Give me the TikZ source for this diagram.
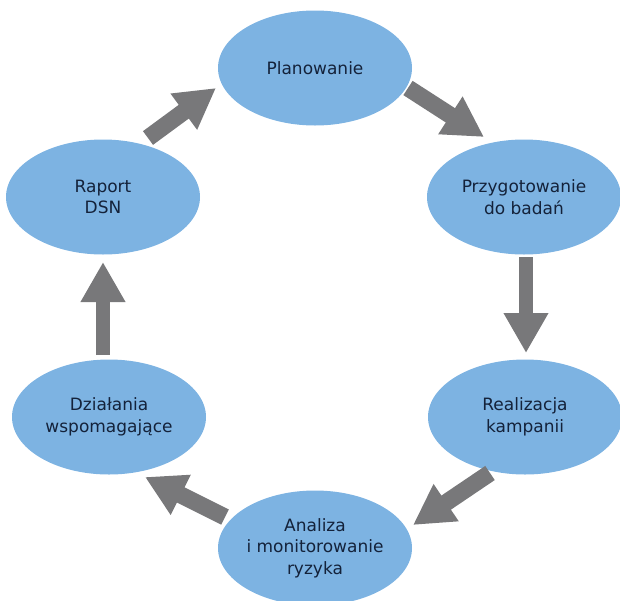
\documentclass[tikz,border=0pt]{standalone}
\usepackage{fontspec}
\setmainfont{DejaVu Sans}
\usetikzlibrary{shapes.geometric,arrows.meta}
\definecolor{stagefill}{RGB}{125,179,226}
\definecolor{stagetext}{RGB}{20,34,58}
\definecolor{flowgray}{RGB}{120,120,122}
\tikzset{
  stage/.style={ellipse, fill=stagefill, minimum width=194pt, minimum height=115pt,
    inner sep=0pt, align=center, text=stagetext,
    font=\fontsize{17pt}{21.5pt}\selectfont},
  flow/.style={draw=flowgray, line width=17pt,
    -{Triangle[length=40pt,width=42pt]}},
  upright/.style={line width=14pt}
}
\begin{document}
\begin{tikzpicture}[x=1pt,y=-1pt]
  \useasboundingbox (0,0) rectangle (620,600);
  % stages of the cycle
  \node[stage] (plan) at (315,68)  {Planowanie};
  \node[stage] (prep) at (524,197) {Przygotowanie\\do badań};
  \node[stage] (real) at (525,417) {Realizacja\\kampanii};
  \node[stage] (anal) at (315,548) {Analiza\\i monitorowanie\\ryzyka};
  \node[stage] (dzia) at (109,417) {Działania\\wspomagające};
  \node[stage] (rap)  at (103,197) {Raport\\DSN};
  % block arrows between stages
  \draw[flow] ([shift={(93,20)}]plan.center)  -- ([shift={(-40,-60)}]prep.center);
  \draw[flow,upright] ([shift={(2,60)}]prep.center)   -- ([shift={(1,-64)}]real.center);
  \draw[flow] ([shift={(-35,56)}]real.center) -- ([shift={(98,-23)}]anal.center);
  \draw[flow] ([shift={(-90,-31)}]anal.center) -- ([shift={(36,60)}]dzia.center);
  \draw[flow,upright] ([shift={(-6,-62)}]dzia.center) -- ([shift={(0,65)}]rap.center);
  \draw[flow] ([shift={(45,-59)}]rap.center)  -- ([shift={(-99,20)}]plan.center);
\end{tikzpicture}
\end{document}
